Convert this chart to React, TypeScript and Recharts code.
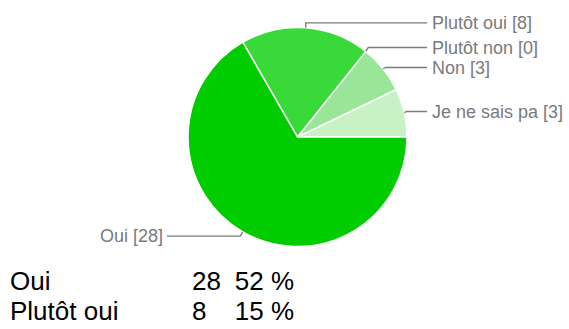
import React from 'react';
import { PieChart, Pie, Cell } from 'recharts';

const categories = ['Je ne sais pa', 'Non', 'Plutôt non', 'Plutôt oui', 'Oui'];
const values = [3, 3, 0, 8, 28];
const colors = ['#c6f2c6', '#99e699', '#66dd66', '#38d938', '#00cc00'];

const tableLabels = ['Oui', 'Plutôt oui'];
const tableCounts = ['28', '8'];
const tablePercents = ['52 %', '15 %'];

const data = categories.map((name, i) => ({ name, value: values[i] }));

const RAD = Math.PI / 180;
const FONT = '"Liberation Sans", Arial, Helvetica, sans-serif';

function labelLayout(cx: number, cy: number, r: number) {
  const total = values.reduce((a, b) => a + b, 0);
  let acc = 0;
  const items = values.map((v, i) => {
    const start = (acc / total) * 360;
    acc += v;
    const end = (acc / total) * 360;
    const mid = (start + end) / 2;
    const ex = cx + r * Math.cos(mid * RAD);
    const ey = cy - r * Math.sin(mid * RAD);
    const ly = cy - (r + 5) * Math.sin(mid * RAD);
    return { i, mid, ex, ey, ly, right: Math.cos(mid * RAD) >= 0 };
  });
  const gap = 20;
  [true, false].forEach((side) => {
    const group = items.filter((it) => it.right === side).sort((a, b) => a.ly - b.ly);
    for (let k = 1; k < group.length; k++) {
      if (group[k].ly - group[k - 1].ly < gap) group[k].ly = group[k - 1].ly + gap;
    }
  });
  return items;
}

const renderLabel = (props: any) => {
  const { cx, cy, outerRadius, index } = props;
  const layout = labelLayout(cx, cy, outerRadius);
  const it = layout[index];
  const textX = it.right ? cx + outerRadius + 25 : cx - outerRadius - 25;
  const lineEnd = it.right ? textX - 5 : textX + 4;
  const bendX = it.right ? it.ex + 2.5 : it.ex - 2.5;
  const bendXv = Math.abs(it.ey - it.ly) > 4 && Math.abs(Math.cos(it.mid * RAD)) < 0.2 ? it.ex : bendX;
  return (
    <g key={`lbl-${index}`}>
      <polyline
        points={`${it.ex},${it.ey} ${bendXv},${it.ly} ${lineEnd},${it.ly}`}
        fill="none"
        stroke="#7a7a7a"
        strokeWidth={1.3}
      />
      <text
        x={textX}
        y={it.ly}
        dy="0.35em"
        textAnchor={it.right ? 'start' : 'end'}
        fill="#7a7a7a"
        fontSize={18}
        fontFamily={FONT}
      >
        {`${categories[index]} [${values[index]}]`}
      </text>
    </g>
  );
};

export default function App() {
  return (
    <div style={{ position: 'absolute', left: 0, top: 0, width: 569, height: 329, background: '#fff' }}>
      <PieChart
        width={569}
        height={260}
        margin={{ top: 0, right: 0, bottom: 0, left: 0 }}
        style={{ position: 'absolute', left: 0, top: 0 }}
      >
        <Pie
          data={data}
          dataKey="value"
          nameKey="name"
          cx={297.5}
          cy={137}
          outerRadius={109.5}
          innerRadius={0}
          startAngle={0}
          endAngle={360}
          stroke="#ffffff"
          strokeWidth={1.5}
          label={renderLabel}
          labelLine={false}
          isAnimationActive={false}
        >
          {data.map((d, i) => (
            <Cell key={d.name} fill={colors[i]} />
          ))}
        </Pie>
      </PieChart>
      <svg width={569} height={329} style={{ position: 'absolute', left: 0, top: 0, pointerEvents: 'none' }}>
        {tableLabels.map((lbl, i) => (
          <g key={lbl} fontFamily={FONT} fontSize={26} fill="#000">
            <text x={10} y={290 + i * 30}>{lbl}</text>
            <text x={192} y={290 + i * 30}>{tableCounts[i]}</text>
            <text x={294} y={290 + i * 30} textAnchor="end">{tablePercents[i]}</text>
          </g>
        ))}
      </svg>
    </div>
  );
}
